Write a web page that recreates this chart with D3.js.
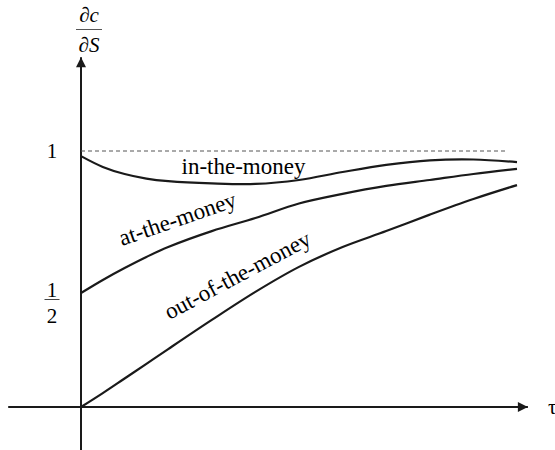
<!DOCTYPE html>
<html>
<head>
<meta charset="utf-8">
<script src="https://cdn.jsdelivr.net/npm/d3@7"></script>
</head>
<body style="margin:0">
<svg id="chart" width="555" height="450"></svg>
<script>
// Time to expiry (schematic units along the τ axis)
const tau = [0, 0.5, 1, 1.5, 2, 3, 4, 5, 6, 7, 8, 9, 10];

// Delta of a call as a function of time to expiry
const inTheMoney  = [0.982, 0.944, 0.919, 0.903, 0.894, 0.886, 0.884, 0.898, 0.926, 0.951, 0.967, 0.970, 0.961];
const atTheMoney  = [0.500, 0.546, 0.588, 0.627, 0.662, 0.718, 0.764, 0.815, 0.849, 0.877, 0.898, 0.919, 0.937];
const outOfMoney  = [0.000, 0.061, 0.125, 0.189, 0.254, 0.382, 0.504, 0.592, 0.662, 0.718, 0.776, 0.831, 0.880];

const seriesNames = ["in-the-money", "at-the-money", "out-of-the-money"];

// Y tick values and their labels (numerator / denominator)
const yTicks = [1, 0.5];
const yTickLabels = [["1"], ["1", "2"]];

const svg = d3.select("#chart");
const ink = "#1a1a1a";

const x = d3.scaleLinear().domain([0, 10]).range([81, 517]);
const y = d3.scaleLinear().domain([0, 0.5, 1]).range([407, 293, 151]);

function label(sel, size) {
  return sel.append("text")
    .style("font-family", '"Liberation Serif"')
    .style("font-size", size + "px");
}

// Curve labels
const labelPos = [
  { x: 243.5, y: 174, angle: 0 },
  { x: 180, y: 226, angle: -19 },
  { x: 241, y: 282, angle: -28 }
];
seriesNames.forEach((name, i) => {
  const p = labelPos[i];
  label(svg, 23)
    .attr("transform", `translate(${p.x},${p.y}) rotate(${p.angle})`)
    .attr("text-anchor", "middle")
    .text(name);
});

// Tick labels
yTicks.forEach((v, i) => {
  const lab = yTickLabels[i];
  const cx = x(0) - 29;
  if (lab.length === 1) {
    label(svg, 21).attr("x", cx).attr("y", y(v) + 7).attr("text-anchor", "middle").text(lab[0]);
  } else {
    label(svg, 21).attr("x", cx).attr("y", y(v) + 4).attr("text-anchor", "middle").text(lab[0]);
    svg.append("line").attr("x1", cx - 7.5).attr("x2", cx + 7.5)
      .attr("y1", y(v) + 6.5).attr("y2", y(v) + 6.5)
      .attr("stroke", "#444").attr("stroke-width", 1);
    label(svg, 21).attr("x", cx).attr("y", y(v) + 30).attr("text-anchor", "middle").text(lab[1]);
  }
});

// Axis titles
label(svg, 21).attr("x", x(10.25) + 20).attr("y", y(0) + 7).text("τ");

const ax = x(0) + 8;
const num = label(svg, 21).attr("x", ax).attr("y", 22).attr("text-anchor", "middle");
num.append("tspan").text("∂");
num.append("tspan").style("font-style", "italic").text("c");
svg.append("line").attr("x1", ax - 13).attr("x2", ax + 13).attr("y1", 29.5).attr("y2", 29.5)
  .attr("stroke", "#555").attr("stroke-width", 1);
const den = label(svg, 21).attr("x", ax).attr("y", 52).attr("text-anchor", "middle");
den.append("tspan").text("∂");
den.append("tspan").style("font-style", "italic").text("S");

// Arrow heads
const defs = svg.append("defs");
defs.append("marker")
  .attr("id", "arrow")
  .attr("viewBox", "0 0 10 10")
  .attr("refX", 10).attr("refY", 5)
  .attr("markerUnits", "userSpaceOnUse")
  .attr("markerWidth", 11).attr("markerHeight", 10)
  .attr("orient", "auto")
  .append("path")
  .attr("d", "M0,0 L10,5 L0,10 Z")
  .attr("fill", ink);

// Horizontal axis (τ)
svg.append("line")
  .attr("x1", x(-1.67)).attr("x2", x(10.25))
  .attr("y1", y(0)).attr("y2", y(0))
  .attr("stroke", ink).attr("stroke-width", 2)
  .attr("marker-end", "url(#arrow)");

// Vertical axis (∂c/∂S)
svg.append("line")
  .attr("x1", x(0)).attr("x2", x(0))
  .attr("y1", 452).attr("y2", y(1.33))
  .attr("stroke", ink).attr("stroke-width", 2)
  .attr("marker-end", "url(#arrow)");

// Reference level at delta = 1
svg.append("line")
  .attr("x1", x(0)).attr("x2", x(9.75))
  .attr("y1", y(1)).attr("y2", y(1))
  .attr("stroke", "#555").attr("stroke-width", 1)
  .attr("stroke-dasharray", "4,3");

// Curves
const line = d3.line()
  .x((d, i) => x(tau[i]))
  .y(d => y(d))
  .curve(d3.curveCatmullRom.alpha(0.5));

[inTheMoney, atTheMoney, outOfMoney].forEach(vals => {
  svg.append("path")
    .attr("d", line(vals))
    .attr("fill", "none")
    .attr("stroke", ink)
    .attr("stroke-width", 2.2);
});
</script>
</body>
</html>
